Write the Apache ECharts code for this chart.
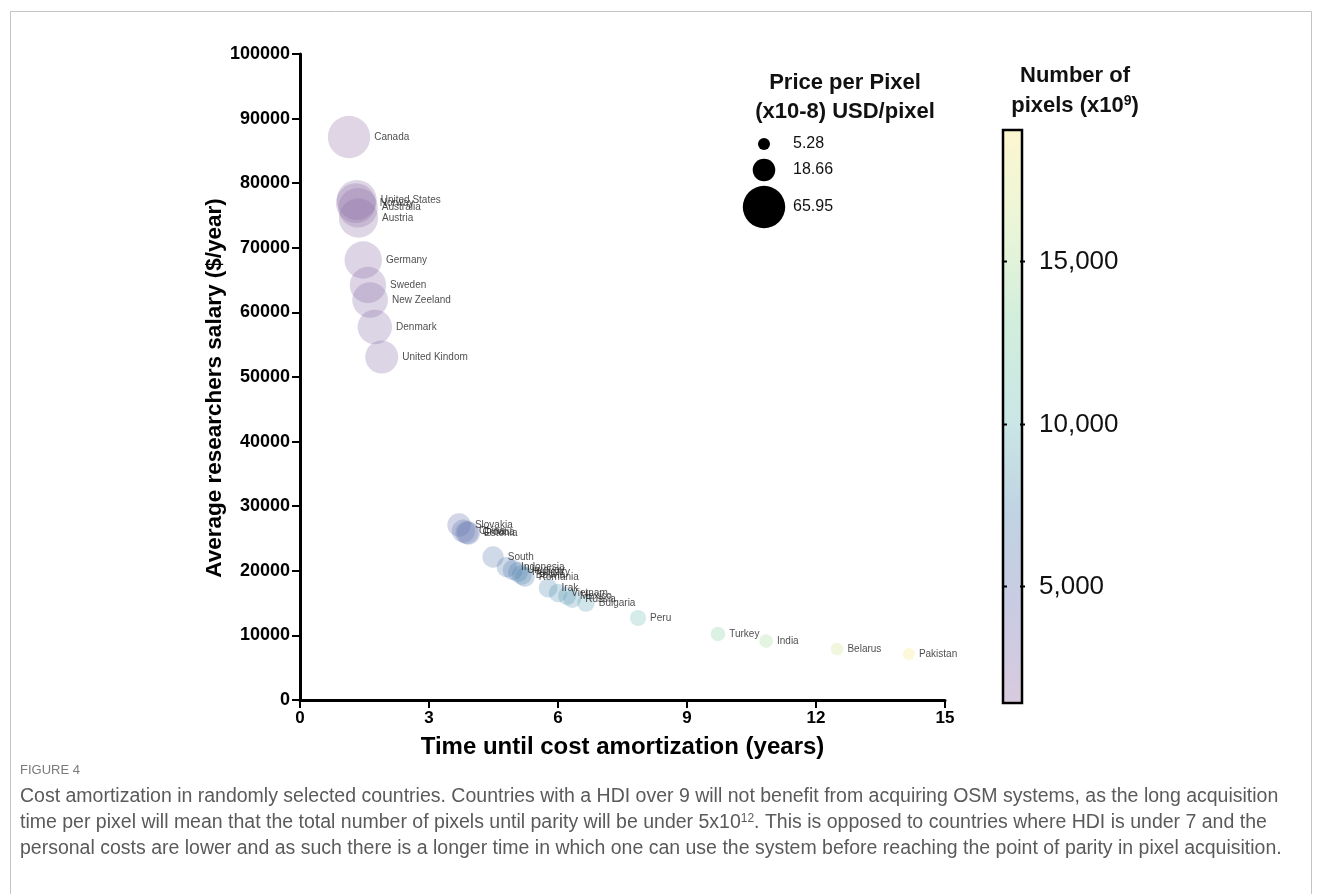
<!DOCTYPE html>
<html><head><meta charset="utf-8">
<script src="https://cdn.jsdelivr.net/npm/echarts@6/dist/echarts.min.js"></script>
<style>html,body{margin:0;padding:0;background:#fff}#c{width:1322px;height:894px}</style>
</head><body><div id="c"></div>
<script>
// ---- data ----
const countries = ['Canada','United States','Norway','Australia','Austria','Germany','Sweden','New Zeeland','Denmark','United Kindom',
  'Slovakia','China','Croatia','Estonia','South','Indonesia','Uruguay','Hungary','Bolivia','Romania',
  'Irak','Vietnam','Mexico','Russia','Bulgaria','Peru','Turkey','India','Belarus','Pakistan'];
const years = [1.14,1.32,1.30,1.35,1.36,1.47,1.58,1.63,1.74,1.90,
  3.70,3.80,3.88,3.92,4.49,4.81,4.95,5.07,5.16,5.23,
  5.77,6.00,6.21,6.33,6.65,7.86,9.72,10.84,12.49,14.16];
const salary = [87150,77400,76900,76200,74600,68110,64240,61920,57740,53100,
  27090,26160,25900,25850,22140,20590,20120,19810,19350,19040,
  17340,16560,16100,15630,15020,12690,10220,9130,7890,7120];
const pricePerPixel = [65.95,58.5,58.0,57.5,56.3,51.4,48.5,46.7,43.6,40.0,
  20.4,19.8,19.6,19.5,16.7,15.5,15.2,14.9,14.6,14.4,
  13.1,12.5,12.1,11.8,11.3,9.6,7.7,6.9,5.95,5.28];
const pixels = [1520,1730,1710,1770,1800,1960,2100,2170,2320,2530,
  4930,5050,5150,5210,5980,6410,6600,6760,6880,6970,
  7690,8000,8280,8440,8870,10480,12960,14450,16650,18880];
const xTicks = [0,3,6,9,12,15];
const yMax = 100000, yStep = 10000;
const sizeLegendValues = [5.28,18.66,65.95];
const colorbarTicks = [5000,10000,15000];
const colorbarRange = [1450,19000];
const palette = ['#926da6','#6a6fae','#4f86b0','#6cbcb8','#7fcf9f','#c6e592','#f7e77c'];
const fillAlpha = 0.36;

// ---- helpers ----
const rMin = 6;
function radius(v){ return rMin*Math.sqrt(v/sizeLegendValues[0]); }
function rgba(hex,a){const n=parseInt(hex.slice(1),16);return `rgba(${n>>16},${(n>>8)&255},${n&255},${a})`;}
function fmt(n){return n.toLocaleString('en-US');}

const chart = echarts.init(document.getElementById('c'), null, {renderer:'canvas'});
const data = countries.map((c,i)=>({name:c, value:[years[i],salary[i],pricePerPixel[i],pixels[i]]}));

// colour bar geometry
const cb = {x:1004, y:131, w:17, h:571};
function cbY(v){ return cb.y + cb.h - (v-colorbarRange[0])/(colorbarRange[1]-colorbarRange[0])*cb.h; }
const stops = palette.map((c,i)=>({offset:i/(palette.length-1), color:rgba(c,fillAlpha)}));
const F = 'Liberation Sans, Arial, sans-serif';

const graphics = [];
graphics.push({type:'rect', shape:{x:10.5,y:11.5,width:1301,height:900}, style:{fill:'none',stroke:'#c4c4c4',lineWidth:1}, silent:true});
graphics.push({type:'rect', shape:{x:cb.x,y:cb.y,width:cb.w,height:cb.h},
  style:{fill:new echarts.graphic.LinearGradient(0,1,0,0,stops)}});
graphics.push({type:'rect', shape:{x:cb.x-1,y:cb.y-1,width:cb.w+2,height:cb.h+2}, style:{fill:'none',stroke:'#000',lineWidth:2.5}});
colorbarTicks.forEach(t=>{
  const y = Math.round(cbY(t))+0.5;
  graphics.push({type:'line', shape:{x1:cb.x-1,y1:y,x2:cb.x+3,y2:y}, style:{stroke:'#000',lineWidth:2}});
  graphics.push({type:'line', shape:{x1:cb.x+cb.w-1,y1:y,x2:cb.x+cb.w+4,y2:y}, style:{stroke:'#000',lineWidth:2}});
  graphics.push({type:'text', x:1039, y:y, style:{text:fmt(t), fontFamily:F, fontSize:26, fill:'#111', textVerticalAlign:'middle'}});
});
graphics.push({type:'text', x:1075, y:76, style:{text:'Number of', fontFamily:F, fontWeight:'bold', fontSize:22, fill:'#111', textAlign:'center', textVerticalAlign:'middle'}});
graphics.push({type:'text', x:1075, y:106, style:{text:'pixels (x10{sup|9})', rich:{sup:{fontSize:14,fontWeight:'bold',fontFamily:F,fill:'#111',verticalAlign:'top',padding:[0,0,10,0]}},
  fontFamily:F, fontWeight:'bold', fontSize:22, fill:'#111', textAlign:'center', textVerticalAlign:'middle'}});
graphics.push({type:'text', x:845, y:83, style:{text:'Price per Pixel', fontFamily:F, fontWeight:'bold', fontSize:22, fill:'#111', textAlign:'center', textVerticalAlign:'middle'}});
graphics.push({type:'text', x:845, y:112, style:{text:'(x10-8) USD/pixel', fontFamily:F, fontWeight:'bold', fontSize:22, fill:'#111', textAlign:'center', textVerticalAlign:'middle'}});
const legendRowsY = [144,170,207];
sizeLegendValues.forEach((v,i)=>{
  graphics.push({type:'circle', shape:{cx:764, cy:legendRowsY[i], r:radius(v)}, style:{fill:'#000'}});
  graphics.push({type:'text', x:793, y:legendRowsY[i], style:{text:v.toFixed(2), fontFamily:F, fontSize:16, fill:'#111', textVerticalAlign:'middle'}});
});
graphics.push({type:'text', x:20, y:770, style:{text:'FIGURE 4', fontFamily:F, fontSize:13, fill:'#7a7a7a', textVerticalAlign:'middle'}});
const capFont = {fontFamily:F, fontSize:19.5, fill:'#5a5a5a', textVerticalAlign:'middle'};
graphics.push({type:'text', x:20, y:797, style:Object.assign({text:'Cost amortization in randomly selected countries. Countries with a HDI over 9 will not benefit from acquiring OSM systems, as the long acquisition'},capFont)});
graphics.push({type:'text', x:20, y:823, style:Object.assign({text:'time per pixel will mean that the total number of pixels until parity will be under 5x10{sup|12}. This is opposed to countries where HDI is under 7 and the',
  rich:{sup:{fontFamily:F,fontSize:12,fill:'#5a5a5a',verticalAlign:'top',padding:[0,0,9,0]}}},capFont)});
graphics.push({type:'text', x:20, y:849, style:Object.assign({text:'personal costs are lower and as such there is a longer time in which one can use the system before reaching the point of parity in pixel acquisition.'},capFont)});

const option = {
  backgroundColor:'#fff',
  animation:false,
  grid:{left:300, right:377, top:54, bottom:194},
  xAxis:{type:'value', min:xTicks[0], max:xTicks[xTicks.length-1], interval:xTicks[1]-xTicks[0],
    name:'Time until cost amortization (years)', nameLocation:'middle', nameGap:35,
    nameTextStyle:{fontFamily:F, fontWeight:'bold', fontSize:24, color:'#000'},
    axisLine:{show:true, onZero:false, lineStyle:{color:'#000', width:3}},
    axisTick:{show:true, length:8, lineStyle:{color:'#000', width:2}},
    axisLabel:{margin:10, fontFamily:F, fontWeight:'bold', fontSize:17, color:'#000'},
    splitLine:{show:false}},
  yAxis:{type:'value', min:0, max:yMax, interval:yStep,
    name:'Average researchers salary ($/year)', nameLocation:'middle', nameGap:74,
    nameTextStyle:{fontFamily:F, fontWeight:'bold', fontSize:22.5, color:'#000', padding:[0,22,0,0]},
    axisLine:{show:true, onZero:false, lineStyle:{color:'#000', width:3}},
    axisTick:{show:true, length:8, lineStyle:{color:'#000', width:2}},
    axisLabel:{margin:10, fontFamily:F, fontWeight:'bold', fontSize:18, color:'#000', formatter:v=>String(v)},
    splitLine:{show:false}},
  visualMap:{show:false, type:'continuous', dimension:3, seriesIndex:0, min:colorbarRange[0], max:colorbarRange[1],
    inRange:{color:palette, colorAlpha:[fillAlpha,fillAlpha]}},
  series:[{type:'scatter', data:data,
    symbolSize:(val)=>2*radius(val[2]),
    label:{show:true, position:'right', distance:4, formatter:p=>p.name, fontFamily:F, fontSize:10, color:'#222'},
    emphasis:{disabled:true}}],
  graphic:graphics
};
chart.setOption(option);
</script></body></html>
